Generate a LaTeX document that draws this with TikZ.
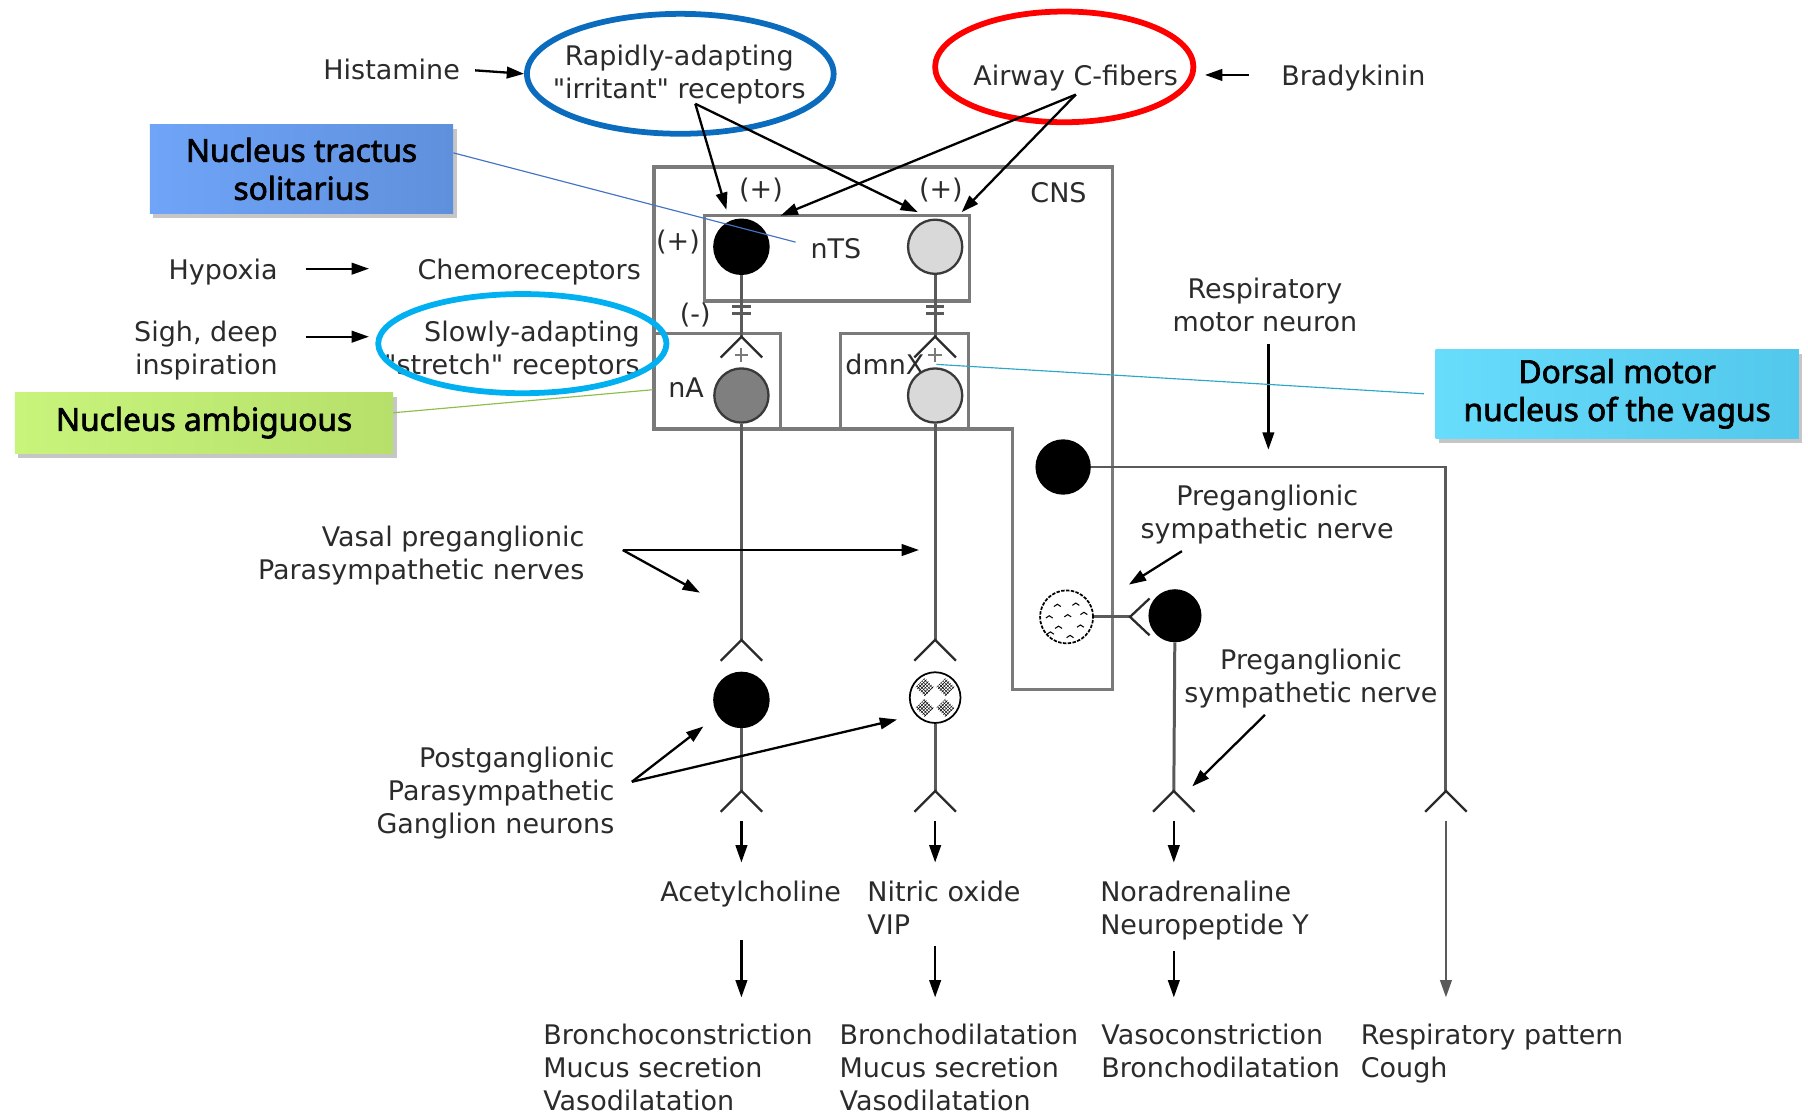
\documentclass[tikz,border=0pt]{standalone}
\usepackage{fontspec}
\setmainfont{DejaVu Sans}[Ligatures=TeXOff]
\newfontfamily\calloutfont{Noto Sans}[AutoFakeBold=2.2]
\usetikzlibrary{arrows.meta,shapes.geometric,shadows,patterns,calc}

\definecolor{ink}{HTML}{2B2B2B}
\definecolor{nerve}{HTML}{5A5A5A}
\definecolor{frame}{HTML}{7A7A7A}
\definecolor{cellLight}{HTML}{D9D9D9}
\definecolor{cellDark}{HTML}{7F7F7F}
\definecolor{cellEdge}{HTML}{3A3A3A}
\definecolor{ringBlue}{HTML}{0B6CBD}
\definecolor{ringRed}{HTML}{FF0000}
\definecolor{ringCyan}{HTML}{00B0F0}
\definecolor{tagBlueA}{HTML}{6FA4F8}
\definecolor{tagBlueB}{HTML}{5F90DC}
\definecolor{tagGreenA}{HTML}{C8F47C}
\definecolor{tagGreenB}{HTML}{B6E06A}
\definecolor{tagCyanA}{HTML}{68DCFB}
\definecolor{tagCyanB}{HTML}{52C8EC}
\definecolor{leadBlue}{HTML}{4472C4}
\definecolor{leadGreen}{HTML}{8CBF4A}
\definecolor{leadCyan}{HTML}{2EA6C8}

\begin{document}
\begin{tikzpicture}[x=1pt,y=-1pt,
  txt/.style={font=\fontsize{23.4}{28.6}\selectfont, text=ink, inner sep=0pt},
  ptr/.style={draw=black, line width=2pt, -{Triangle[length=15pt,width=10pt]}},
  nerveline/.style={draw=nerve, line width=2.6pt},
  chev/.style={draw=ink, line width=2pt},
  boxline/.style={draw=frame, line width=3pt},
  cell/.style={circle, minimum size=47pt, inner sep=0pt, line width=2pt},
  ring/.style={ellipse, draw=#1, line width=5pt, inner sep=0pt},
  tag/.style={rectangle, inner sep=0pt, align=center,
    font=\calloutfont\bfseries\fontsize{27.5}{33}\selectfont, text=black,
    drop shadow={shadow xshift=3pt, shadow yshift=-4pt, opacity=0.45}},
  pics/recv/.style={code={\draw[chev] (-18,18) -- (0,0) -- (18,18);}}
]
\useasboundingbox (0,0) rectangle (1568,967);

% ---------- CNS outline and nuclei boxes ----------
\draw[boxline] (567,145) -- (965,145) -- (965,598) -- (878,598) -- (878,372) -- (567,372) -- cycle;
\draw[boxline] (611,187) rectangle (841,261);
\draw[boxline] (567,289) rectangle (677,372);
\draw[boxline] (729,289) rectangle (840,372);
\node[txt] (cns) at (918,167) {CNS};
\node[txt] (ntsLbl) at (725,216) {nTS};
\node[txt] (naLbl) at (595,336) {nA};
\node[txt, anchor=west] (dmnxLbl) at (733,316) {dmnX};

% ---------- cells ----------
\node[cell, fill=black, draw=black] (ntsA) at (643,214) {};
\node[cell, fill=cellLight, draw=cellEdge] (ntsB) at (811,214) {};
\node[cell, fill=cellDark, draw=cellEdge] (nA) at (643,343) {};
\node[cell, fill=cellLight, draw=cellEdge] (dmnx) at (811,343) {};
\node[cell, fill=black, draw=black] (gangA) at (643,607) {};
\node[cell, fill=white, draw=black, line width=1.5pt, minimum size=44pt] (gangB) at (811,605) {};
\node[cell, fill=black, draw=black, minimum size=46pt] (motor) at (922,405) {};
\node[cell, fill=white, draw=black, line width=1.5pt, dash pattern=on 3pt off 1.2pt, minimum size=46pt] (symPre) at (925,535) {};
\node[cell, fill=black, draw=black, minimum size=44pt] (gangC) at (1019,534) {};

% checkered patches of the nitrergic ganglion cell
\foreach \dx/\dy in {-9/-9, 9/-9, -9/9, 9/9}
  \fill[pattern=crosshatch, pattern color=black]
    ($(gangB)+(\dx,\dy)+(0,-8)$) -- ($(gangB)+(\dx,\dy)+(8,0)$) -- ($(gangB)+(\dx,\dy)+(0,8)$) -- ($(gangB)+(\dx,\dy)+(-8,0)$) -- cycle;
% stippled preganglionic sympathetic cell
\foreach \dx/\dy in {-8/-11, 8/-12, -15/-1, 1/-2, 15/-4, -7/8, 12/7, -14/13, 3/16}
  \draw[black, line width=0.9pt] ($(symPre)+(\dx,\dy)+(-3,2)$) -- ($(symPre)+(\dx,\dy)$) -- ($(symPre)+(\dx,\dy)+(3,2)$);

% ---------- synapse points ----------
\coordinate (synA1) at (643,292);
\coordinate (synB1) at (811,292);
\coordinate (synA2) at (643,555);
\coordinate (synB2) at (811,555);
\coordinate (synA3) at (643,686);
\coordinate (synB3) at (811,686);
\coordinate (synC3) at (1018,686);
\coordinate (synD3) at (1254,686);
\coordinate (synS) at (980,535);
\coordinate (motorBend) at (1254,405);

% ---------- nerve fibres ----------
\draw[nerveline] (ntsA) -- (synA1);
\draw[nerveline] (ntsB) -- (synB1);
\draw[nerveline] (nA) -- (synA2);
\draw[nerveline] (dmnx) -- (synB2);
\draw[nerveline] (gangA) -- (synA3);
\draw[nerveline] (gangB) -- (synB3);
\draw[nerveline] (gangC) -- (synC3);
\draw[nerveline] (motor) -- (motorBend) -- (synD3);
\draw[nerveline] (symPre) -- (synS);

% inhibitory bars on the nTS outputs, excitatory marks below the endings
\foreach \c in {synA1, synB1}{
  \draw[nerveline] ($(\c)+(-8,-26)$) -- ($(\c)+(8,-26)$);
  \draw[nerveline] ($(\c)+(-8,-20)$) -- ($(\c)+(8,-20)$);
  \draw[draw=frame, line width=1.8pt] ($(\c)+(-6,16)$) -- ($(\c)+(6,16)$);
  \draw[draw=frame, line width=1.8pt] ($(\c)+(0,10)$) -- ($(\c)+(0,22)$);
}

% receptor endings
\foreach \c in {synA1, synB1, synA2, synB2, synA3, synB3, synC3, synD3}
  \pic at (\c) {recv};
\draw[chev] ($(synS)+(17,-16)$) -- (synS) -- ($(synS)+(17,16)$);

% transmitter release arrows
\coordinate (relA1) at (643,712); \coordinate (relA2) at (643,748);
\coordinate (relB1) at (811,712); \coordinate (relB2) at (811,748);
\coordinate (relC1) at (1018,712); \coordinate (relC2) at (1018,748);
\coordinate (relD1) at (1254,712); \coordinate (relD2) at (1254,865);
\coordinate (effA1) at (643,815); \coordinate (effA2) at (643,865);
\coordinate (effB1) at (811,820); \coordinate (effB2) at (811,865);
\coordinate (effC1) at (1018,825); \coordinate (effC2) at (1018,865);
\draw[ptr] (relA1) -- (relA2);
\draw[ptr] (relB1) -- (relB2);
\draw[ptr] (relC1) -- (relC2);
\draw[ptr, draw=nerve] (relD1) -- (relD2);
\draw[ptr] (effA1) -- (effA2);
\draw[ptr] (effB1) -- (effB2);
\draw[ptr] (effC1) -- (effC2);

% ---------- afferent inputs ----------
\node[txt, anchor=north east] (hist) at (399,51) {Histamine};
\node[txt, align=center, anchor=north] (rapid) at (589,39) {Rapidly-adapting\\"irritant" receptors};
\node[ring=ringBlue, minimum width=266pt, minimum height=104pt] (rapidRing) at (590,64) {};
\node[txt, anchor=north west] (cfib) at (844,56) {Airway C-fibers};
\node[ring=ringRed, minimum width=224pt, minimum height=96pt] (cfibRing) at (923,58) {};
\node[txt, anchor=north west] (brady) at (1111,56) {Bradykinin};

\coordinate (histEnd) at (412,61);
\draw[ptr] (histEnd) -- (rapidRing.west);
\coordinate (bradyEnd) at (1083,65);
\coordinate (cfibIn) at (1045,65);
\draw[ptr] (bradyEnd) -- (cfibIn);

\coordinate (rapidOut) at (603,90);
\coordinate (cfibOut) at (933,82);
\coordinate (inA) at (630,182);
\coordinate (inB) at (796,184);
\coordinate (inA2) at (677,187);
\coordinate (inB2) at (834,184);
\draw[ptr] (rapidOut) -- (inA);
\draw[ptr] (rapidOut) -- (inB);
\draw[ptr] (cfibOut) -- (inA2);
\draw[ptr] (cfibOut) -- (inB2);

\node[txt] (plusA) at (660,165) {(+)};
\node[txt] (plusB) at (816,165) {(+)};
\node[txt] (plusC) at (588,210) {(+)};
\node[txt] (minusA) at (603,273) {(-)};

\node[txt, anchor=north east] (hypox) at (241,224) {Hypoxia};
\node[txt, anchor=north east] (chemo) at (556,224) {Chemoreceptors};
\coordinate (hypoxEnd) at (265,233); \coordinate (chemoIn) at (320,233);
\draw[ptr] (hypoxEnd) -- (chemoIn);
\node[txt, align=right, anchor=north east] (sigh) at (241,278) {Sigh, deep\\inspiration};
\node[txt, align=right, anchor=north east] (slow) at (555,278) {Slowly-adapting\\"stretch" receptors};
\coordinate (sighEnd) at (265,292); \coordinate (slowIn) at (320,292);
\draw[ptr] (sighEnd) -- (slowIn);
\node[ring=ringCyan, minimum width=250pt, minimum height=86pt] (slowRing) at (453,298) {};

% ---------- efferent labels ----------
\node[txt, align=center, anchor=north] (respMot) at (1097,241) {Respiratory\\motor neuron};
\coordinate (respA) at (1100,298); \coordinate (respB) at (1100,390);
\draw[ptr] (respA) -- (respB);

\node[txt, align=center, anchor=north] (preSym1) at (1099,420) {Preganglionic\\sympathetic nerve};
\coordinate (ps1A) at (1025,478); \coordinate (ps1B) at (979,507);
\draw[ptr] (ps1A) -- (ps1B);
\node[txt, align=center, anchor=north] (preSym2) at (1137,563) {Preganglionic\\sympathetic nerve};
\coordinate (ps2A) at (1097,620); \coordinate (ps2B) at (1034,682);
\draw[ptr] (ps2A) -- (ps2B);

\node[txt, align=right, anchor=north east] (vasal) at (507,456) {Vasal preganglionic\\Parasympathetic nerves};
\coordinate (vasOut) at (540,477);
\coordinate (vasB) at (797,477);
\coordinate (vasA) at (607,514);
\draw[ptr] (vasOut) -- (vasB);
\draw[ptr] (vasOut) -- (vasA);

\node[txt, align=right, anchor=north east] (postg) at (533,648) {Postganglionic\\Parasympathetic\\Ganglion neurons};
\coordinate (pgOut) at (548,678);
\coordinate (pgA) at (610,630);
\coordinate (pgB) at (778,624);
\draw[ptr] (pgOut) -- (pgA);
\draw[ptr] (pgOut) -- (pgB);

\node[txt, anchor=north] (ach) at (651,764) {Acetylcholine};
\node[txt, align=left, anchor=north west] (no) at (752,764) {Nitric oxide\\VIP};
\node[txt, align=left, anchor=north west] (nor) at (954,764) {Noradrenaline\\Neuropeptide Y};

\node[txt, align=left, anchor=north west] (effA) at (471,888) {Bronchoconstriction\\Mucus secretion\\Vasodilatation};
\node[txt, align=left, anchor=north west] (effB) at (728,888) {Bronchodilatation\\Mucus secretion\\Vasodilatation};
\node[txt, align=left, anchor=north west] (effC) at (955,888) {Vasoconstriction\\Bronchodilatation};
\node[txt, align=left, anchor=north west] (effD) at (1180,888) {Respiratory pattern\\Cough};

% ---------- callouts ----------
\node[tag, left color=tagBlueA, right color=tagBlueB, minimum width=263pt, minimum height=77pt]
  (ntsTag) at (261.5,146.5) {Nucleus tractus\\solitarius};
\node[tag, left color=tagGreenA, right color=tagGreenB, minimum width=328pt, minimum height=53pt]
  (naTag) at (177,366.5) {Nucleus ambiguous};
\node[tag, left color=tagCyanA, right color=tagCyanB, minimum width=315pt, minimum height=77pt]
  (dmnxTag) at (1402.5,341.5) {Dorsal motor\\nucleus of the vagus};

\coordinate (ntsPoint) at (690,210);
\coordinate (naPoint) at (566,338);
\coordinate (dmnxPoint) at (812,316);
\draw[leadBlue, line width=1pt] ($(ntsTag.north east)!0.32!(ntsTag.south east)$) -- (ntsPoint);
\draw[leadGreen, line width=1pt] ($(naTag.north east)!0.34!(naTag.south east)$) -- (naPoint);
\draw[leadCyan, line width=1pt] ([xshift=-10pt]dmnxTag.west) -- (dmnxPoint);
\end{tikzpicture}
\end{document}
